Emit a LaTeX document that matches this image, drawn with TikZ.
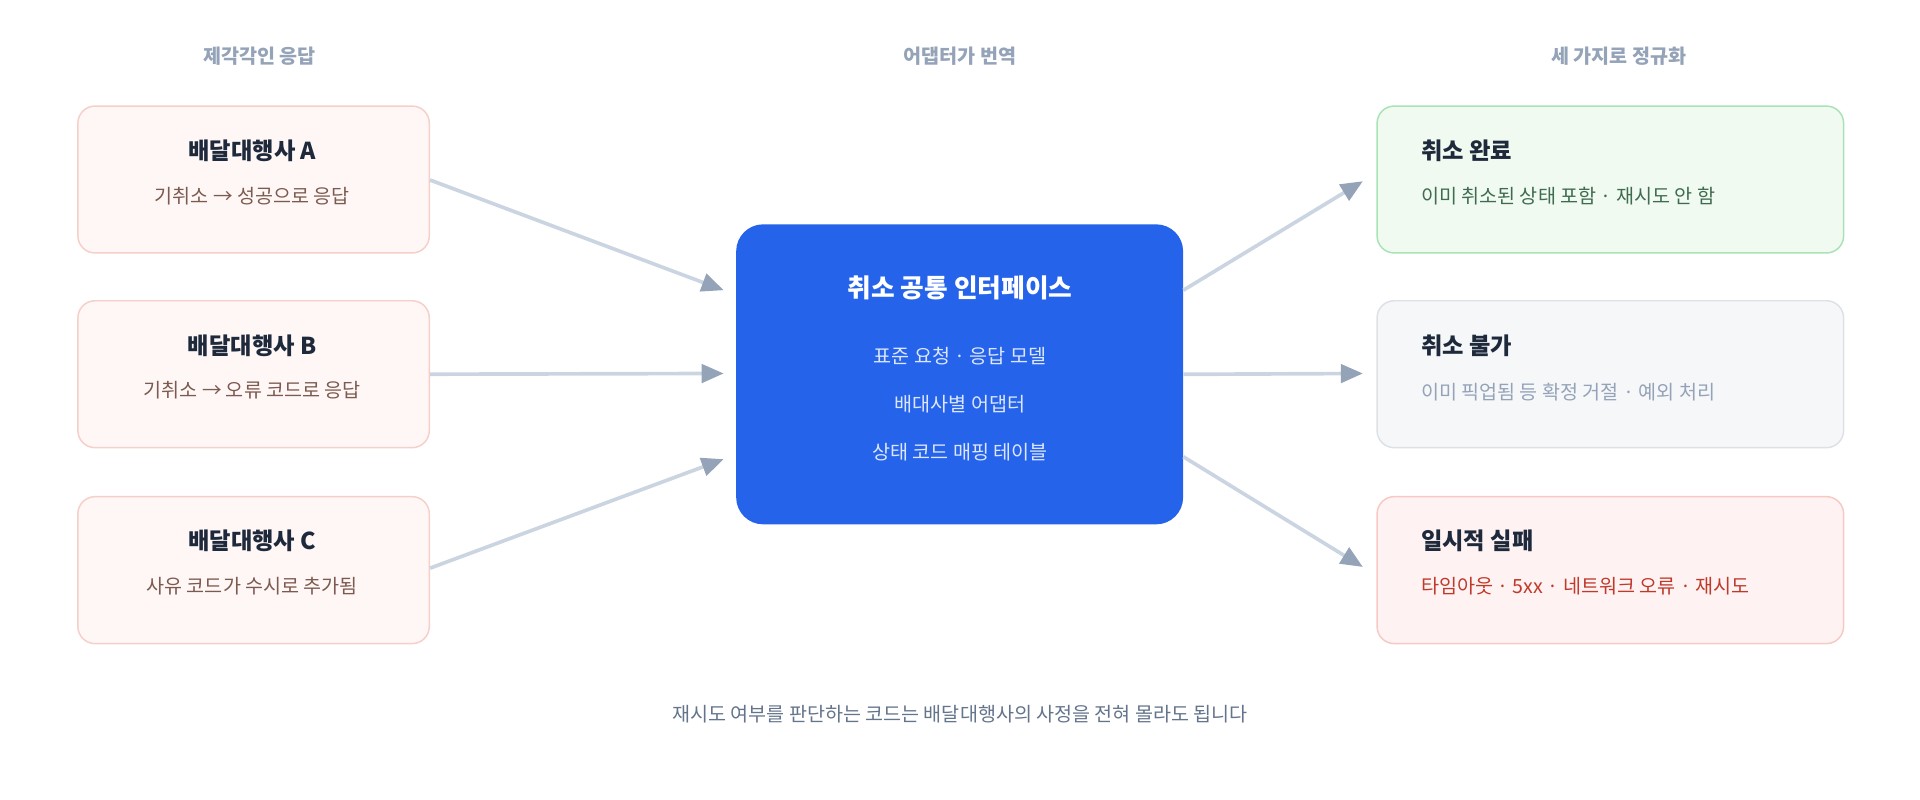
\documentclass[tikz,border=0pt]{standalone}
\usepackage{fontspec}
\setmainfont{Noto Sans CJK KR}
\newfontfamily\krb{Noto Sans CJK KR}[BoldFont={* Bold}]
\usetikzlibrary{arrows.meta}
\definecolor{hdr}{HTML}{94A3B8}
\definecolor{ttl}{HTML}{1E293B}
\definecolor{lfill}{HTML}{FEF7F6}
\definecolor{ldraw}{HTML}{F5CFC8}
\definecolor{lsub}{HTML}{7C5A4F}
\definecolor{blue}{HTML}{2563EB}
\definecolor{bsub}{HTML}{DCE6FD}
\definecolor{gfill}{HTML}{F0FAF1}
\definecolor{gdraw}{HTML}{A7E3B5}
\definecolor{gsub}{HTML}{3F6B50}
\definecolor{nfill}{HTML}{F6F7F9}
\definecolor{ndraw}{HTML}{DDE1E6}
\definecolor{rfill}{HTML}{FEF3F2}
\definecolor{rdraw}{HTML}{F6C9C4}
\definecolor{rsub}{HTML}{C0392B}
\definecolor{line}{HTML}{CBD5E1}
\definecolor{foot}{HTML}{64748B}
\begin{document}
\begin{tikzpicture}[x=1pt,y=-1pt,
 box/.style={rounded corners=14pt,line width=1.2pt,minimum width=287pt,minimum height=120pt,anchor=north west},
 rbox/.style={rounded corners=14pt,line width=1.2pt,minimum width=381pt,minimum height=120pt,anchor=north west},
 hd/.style={text=hdr,font=\fontsize{16}{18}\selectfont\bfseries},
 tt/.style={text=ttl,font=\fontsize{19}{22}\selectfont\bfseries},
 sb/.style={font=\fontsize{16}{18}\selectfont},
 arr/.style={draw=line,line width=3pt,-{Triangle[length=18pt,width=15pt,color=hdr]}}]
\useasboundingbox (0,0) rectangle (1568,653);
\node[hd] (h1) at (212,46) {제각각인 응답};
\node[hd] (h2) at (784,46) {어댑터가 번역};
\node[hd] (h3) at (1322,46) {세 가지로 정규화};
\foreach \n/\y/\t/\s in {a/86/A/기취소 → 성공으로 응답, b/245/B/기취소 → 오류 코드로 응답, c/405/C/사유 코드가 수시로 추가됨}{
 \node[box,fill=lfill,draw=ldraw] (\n) at (63,\y) {};
 \node[tt] (\n t) at (206,\y+37) {배달대행사 \t};
 \node[sb,text=lsub] (\n s) at (206,\y+74) {\s};
}
\node[rounded corners=22pt,fill=blue,minimum width=365pt,minimum height=245pt,anchor=north west] (m) at (601,183) {};
\node[text=white,font=\fontsize{21}{24}\selectfont\bfseries] (mt) at (784,235) {취소 공통 인터페이스};
\node[sb,text=bsub] (m1) at (784,291) {표준 요청 · 응답 모델};
\node[sb,text=bsub] (m2) at (784,330) {배대사별 어댑터};
\node[sb,text=bsub] (m3) at (784,369) {상태 코드 매핑 테이블};
\node[rbox,fill=gfill,draw=gdraw] (g) at (1124,86) {};
\node[tt,anchor=west] (gt) at (1157,123) {취소 완료};
\node[sb,text=gsub,anchor=west] (gs) at (1157,160) {이미 취소된 상태 포함 · 재시도 안 함};
\node[rbox,fill=nfill,draw=ndraw] (n) at (1124,245) {};
\node[tt,anchor=west] (nt) at (1157,282) {취소 불가};
\node[sb,text=hdr,anchor=west] (ns) at (1157,320) {이미 픽업됨 등 확정 거절 · 예외 처리};
\node[rbox,fill=rfill,draw=rdraw] (r) at (1124,405) {};
\node[tt,anchor=west] (rt) at (1157,442) {일시적 실패};
\node[sb,text=rsub,anchor=west] (rs) at (1157,479) {타임아웃 · 5xx · 네트워크 오류 · 재시도};
\node[sb,text=foot] (f) at (784,583) {재시도 여부를 판단하는 코드는 배달대행사의 사정을 전혀 몰라도 됩니다};
\draw[arr] (a.east |- 0,147) -- (591,237);
\draw[arr] (b.east) -- (591,305);
\draw[arr] (c.east |- 0,464) -- (591,375);
\draw[arr] (m.east |- 0,237) -- (1113,148);
\draw[arr] (m.east) -- (1113,305);
\draw[arr] (m.east |- 0,373) -- (1113,463);
\end{tikzpicture}
\end{document}
